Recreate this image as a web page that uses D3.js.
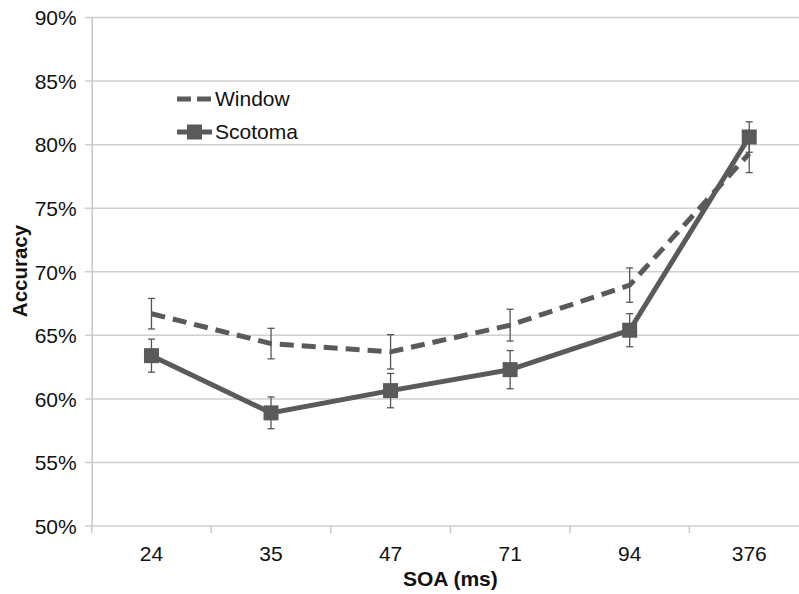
<!DOCTYPE html>
<html>
<head>
<meta charset="utf-8">
<script src="https://cdn.jsdelivr.net/npm/d3@7"></script>
<style>
	body { margin: 0; background: #fff; }
	svg { display: block; overflow: hidden; }
	text { font-family: "Liberation Sans", Arial, sans-serif; fill: #111; }
</style>
</head>
<body>
<div id="chart"></div>
<script>
// SOA conditions (ms)
const soa = ['24', '35', '47', '71', '94', '376'];

// mean accuracy (%) and error bar half-widths
const windowAcc = [66.7, 64.35, 63.7, 65.8, 68.95, 79.3];
const windowErr = [1.2, 1.2, 1.35, 1.25, 1.35, 1.5];
const scotomaAcc = [63.4, 58.9, 60.65, 62.3, 65.4, 80.6];
const scotomaErr = [1.3, 1.25, 1.35, 1.5, 1.3, 1.2];

const yTicks = [50, 55, 60, 65, 70, 75, 80, 85, 90];

const W = 799, H = 594;
const margin = { top: 17.5, left: 91.7, bottom: 68 };
const plotRight = 809; // plot area runs a little past the right edge
const fs = '21px';

const svg = d3.select('#chart').append('svg')
	.attr('width', W)
	.attr('height', H);

const x = d3.scaleBand()
	.domain(soa)
	.range([margin.left, plotRight]);

const y = d3.scaleLinear()
	.domain([50, 90])
	.range([H - margin.bottom, margin.top]);

const cx = d => x(d) + x.bandwidth() / 2;

// horizontal gridlines
svg.append('g')
	.selectAll('line')
	.data(yTicks)
	.enter().append('line')
	.attr('x1', margin.left - 7)
	.attr('x2', plotRight)
	.attr('y1', d => y(d))
	.attr('y2', d => y(d))
	.attr('stroke', '#cfcfcf')
	.attr('stroke-width', 1.5);

// y axis
const axisL = d3.axisLeft(y)
	.tickValues(yTicks)
	.tickFormat(d => d + '%')
	.tickSize(0)
	.tickPadding(15);

const yAxis = svg.append('g')
	.attr('transform', 'translate(' + margin.left + ',0)')
	.call(axisL);
yAxis.select('.domain').attr('stroke', '#c8c8c8').attr('stroke-width', 1.5);
yAxis.selectAll('text').style('font-size', fs).attr('dy', '0.35em');

// x axis with ticks between categories
const axisB = d3.axisBottom(x).tickSize(0).tickPadding(20);
const xAxis = svg.append('g')
	.attr('transform', 'translate(0,' + y(50) + ')')
	.call(axisB);
xAxis.select('.domain').remove();
xAxis.selectAll('text').style('font-size', fs);

svg.append('g')
	.selectAll('line')
	.data(soa.concat(['end']))
	.enter().append('line')
	.attr('x1', (d, i) => margin.left + i * x.step())
	.attr('x2', (d, i) => margin.left + i * x.step())
	.attr('y1', y(50))
	.attr('y2', y(50) + 7)
	.attr('stroke', '#c8c8c8')
	.attr('stroke-width', 1.5);

// axis titles
svg.append('text')
	.attr('x', (margin.left + plotRight) / 2)
	.attr('y', 586)
	.attr('text-anchor', 'middle')
	.style('font-size', fs)
	.style('font-weight', 'bold')
	.text('SOA (ms)');

svg.append('text')
	.attr('transform', 'translate(27,271) rotate(-90)')
	.attr('text-anchor', 'middle')
	.style('font-size', '20.5px')
	.style('font-weight', 'bold')
	.text('Accuracy');

const lineColor = '#5a5a5a';
const line = d3.line().x(d => cx(d.soa)).y(d => y(d.v));

function errorBars(vals, errs) {
	const g = svg.append('g').attr('stroke', '#555').attr('stroke-width', 1.3);
	soa.forEach(function(s, i) {
		const px = cx(s);
		g.append('line')
			.attr('x1', px).attr('x2', px)
			.attr('y1', y(vals[i] + errs[i])).attr('y2', y(vals[i] - errs[i]));
		[vals[i] + errs[i], vals[i] - errs[i]].forEach(function(v) {
			g.append('line')
				.attr('x1', px - 3.5).attr('x2', px + 3.5)
				.attr('y1', y(v)).attr('y2', y(v));
		});
	});
}

const windowData = soa.map((s, i) => ({ soa: s, v: windowAcc[i] }));
const scotomaData = soa.map((s, i) => ({ soa: s, v: scotomaAcc[i] }));

// Window series (dashed)
errorBars(windowAcc, windowErr);
svg.append('path')
	.datum(windowData)
	.attr('d', line)
	.attr('fill', 'none')
	.attr('stroke', lineColor)
	.attr('stroke-width', 5)
	.attr('stroke-dasharray', '14,8');

// Scotoma series (solid with squares)
errorBars(scotomaAcc, scotomaErr);
svg.append('path')
	.datum(scotomaData)
	.attr('d', line)
	.attr('fill', 'none')
	.attr('stroke', lineColor)
	.attr('stroke-width', 5);

svg.append('g')
	.selectAll('rect')
	.data(scotomaData)
	.enter().append('rect')
	.attr('x', d => cx(d.soa) - 7.5)
	.attr('y', d => y(d.v) - 7.5)
	.attr('width', 15)
	.attr('height', 15)
	.attr('fill', lineColor);

// legend
const legend = svg.append('g');
legend.append('line')
	.attr('x1', 177).attr('x2', 212)
	.attr('y1', 99).attr('y2', 99)
	.attr('stroke', lineColor)
	.attr('stroke-width', 5)
	.attr('stroke-dasharray', '14,6');
legend.append('text')
	.attr('x', 215).attr('y', 99).attr('dy', '0.35em')
	.style('font-size', fs)
	.text('Window');

legend.append('line')
	.attr('x1', 177).attr('x2', 212)
	.attr('y1', 132).attr('y2', 132)
	.attr('stroke', lineColor)
	.attr('stroke-width', 5);
legend.append('rect')
	.attr('x', 187).attr('y', 124.5)
	.attr('width', 15).attr('height', 15)
	.attr('fill', lineColor);
legend.append('text')
	.attr('x', 215).attr('y', 132).attr('dy', '0.35em')
	.style('font-size', fs)
	.text('Scotoma');
</script>
</body>
</html>
